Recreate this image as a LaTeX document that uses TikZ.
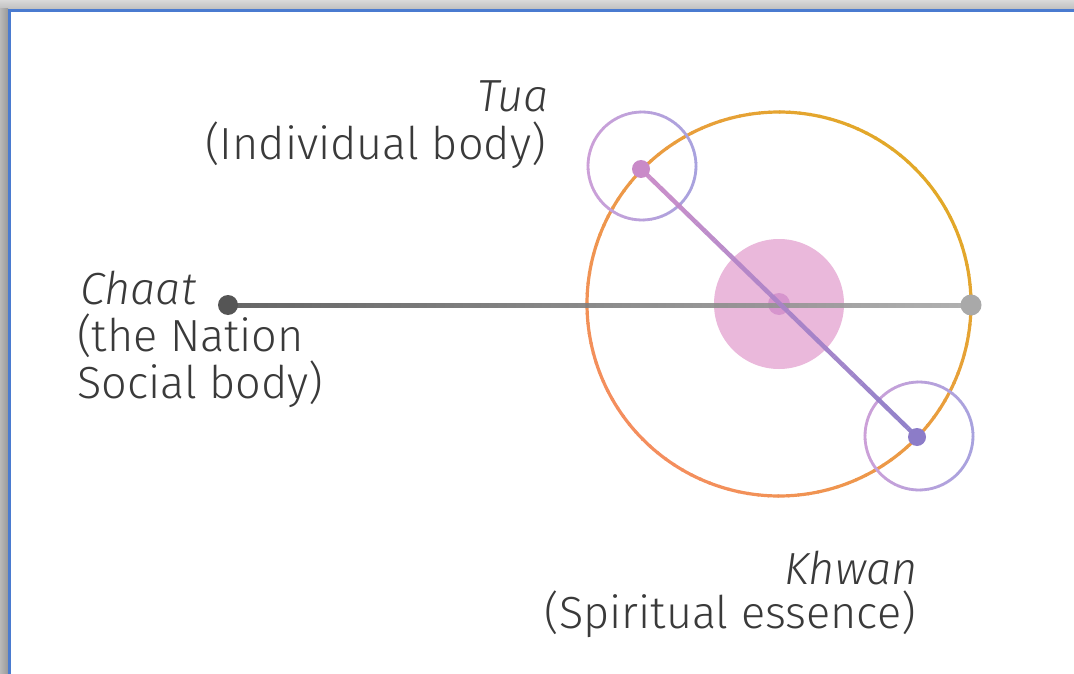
\documentclass[tikz,border=0pt]{standalone}
\usepackage{fontspec}
\setmainfont{Fira Sans}[UprightFont={* Light}, ItalicFont={* Light Italic}]
\usetikzlibrary{calc}
\definecolor{frameblue}{HTML}{4A7BD0}
\definecolor{ringgold}{HTML}{E2A828}
\definecolor{ringsalmon}{HTML}{F48E5E}
\definecolor{lilacL}{HTML}{CCA0D8}
\definecolor{lilacR}{HTML}{A8A2DE}
\definecolor{tuadot}{HTML}{C98AC8}
\definecolor{khwandot}{HTML}{8C7CC8}
\definecolor{diskpink}{HTML}{EAB8DB}
\definecolor{centerdot}{HTML}{D695CD}
\definecolor{linedark}{HTML}{555555}
\definecolor{linelight}{HTML}{A9A9A9}
\definecolor{txt}{HTML}{3A3A3A}
\tikzset{
  lbl/.style={text=txt, inner sep=0pt, font=\fontsize{45}{48}\selectfont},
  dotstyle/.style={circle, inner sep=0pt, minimum size=#1},
}
\begin{document}
\begin{tikzpicture}[x=1pt,y=-1pt]
\useasboundingbox (0,0) rectangle (1074,674);
% background and frame shadow
\fill[white] (0,0) rectangle (1074,674);
\shade[top color=gray!30, bottom color=gray!50] (0,0) rectangle (1074,9);
\shade[left color=gray!55, right color=gray!80] (0,9) rectangle (8,674);
\draw[frameblue, line width=3pt] (9.5,674) -- (9.5,10.5) -- (1074,10.5);

\coordinate (C) at (779,304);
\coordinate (T) at (641,169);
\coordinate (K) at (917,437);
\coordinate (CH) at (228,305);
\coordinate (R) at (971,305);

% central pink disc
\fill[diskpink] (C) circle[radius=65];
\fill[centerdot] (C) circle[radius=11];

% big ring with gradient
\foreach \a in {0,3,...,357}{
  \pgfmathsetmacro\m{50*(1+cos(\a+45))}
  \draw[line width=3.2pt, color=ringgold!\m!ringsalmon] (C) ++(\a:192) arc[start angle=\a, end angle=\a+3.4, radius=192];
}

% small rings
\foreach \a in {0,4,...,356}{
  \pgfmathsetmacro\m{50*(1+cos(\a))}
  \draw[line width=2.8pt, color=lilacR!\m!lilacL] (642,166) ++(\a:54) arc[start angle=\a, end angle=\a+4.5, radius=54];
  \draw[line width=2.8pt, color=lilacR!\m!lilacL] (919,436) ++(\a:54) arc[start angle=\a, end angle=\a+4.5, radius=54];
}

% horizontal gray line
\shade[left color=linedark, right color=linelight, opacity=0.9] (228,303) rectangle (971,307);

% diagonal line with gradient
\foreach \i in {0,...,29}{
  \pgfmathsetmacro\m{100-100*\i/29}
  \draw[line width=4.5pt, color=tuadot!\m!khwandot, opacity=0.95]
    ($(T)!\i/30!(K)$) -- ($(T)!{(\i+1)/30}!(K)$);
}

% dots
\node[dotstyle=20pt, fill=linedark] (chaatdot) at (CH) {};
\node[dotstyle=21pt, fill=linelight] (rdot) at (R) {};
\node[dotstyle=18pt, fill=tuadot] (tuadot) at (T) {};
\node[dotstyle=18pt, fill=khwandot] (khwandot) at (K) {};

% labels
\node[lbl, anchor=base east] (tua) at (549,112) {\itshape Tua};
\node[lbl, anchor=base east] (tua2) at (546,160) {(Individual body)};
\node[lbl, anchor=base west] (chaat) at (80,304) {\itshape Chaat};
\node[lbl, anchor=base west] (chaat2) at (77,351) {(the Nation};
\node[lbl, anchor=base west] (chaat3) at (77,398) {Social body)};
\node[lbl, anchor=base east] (khwan) at (918,584) {\itshape Khwan};
\node[lbl, anchor=base east] (khwan2) at (916,628) {(Spiritual essence)};
\end{tikzpicture}
\end{document}
